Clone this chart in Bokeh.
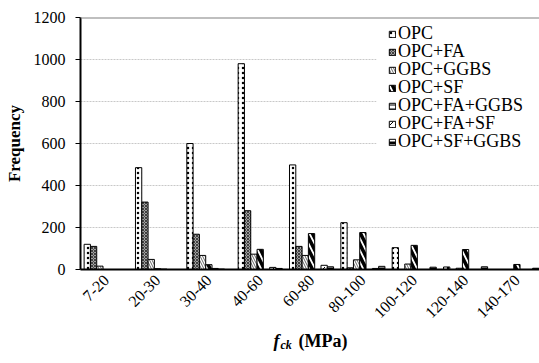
import math
from bokeh.plotting import figure
from bokeh.layouts import column
from bokeh.models import Range1d, Legend, LegendItem, Span, FixedTicker, BoxAnnotation
from bokeh.core.properties import value
from bokeh.embed import file_html
from bokeh.resources import INLINE

categories = ["7-20", "20-30", "30-40", "40-60", "60-80", "80-100", "100-120", "120-140", "140-170"]
series_names = ["OPC", "OPC+FA", "OPC+GGBS", "OPC+SF", "OPC+FA+GGBS", "OPC+FA+SF", "OPC+SF+GGBS"]
opc = [120, 485, 600, 980, 498, 223, 104, 12, 0]
opc_fa = [110, 321, 168, 280, 110, 8, 0, 0, 0]
opc_ggbs = [16, 48, 67, 73, 67, 46, 26, 6, 0]
opc_sf = [0, 4, 23, 96, 171, 176, 115, 95, 24]
opc_fa_ggbs = [0, 2, 5, 0, 0, 0, 0, 0, 0]
opc_fa_sf = [0, 0, 2, 10, 20, 5, 0, 0, 0]
opc_sf_ggbs = [0, 0, 0, 5, 13, 15, 11, 13, 6]
y_ticks = [0, 200, 400, 600, 800, 1000, 1200]
x_title_parts = ["f", "ck", "(MPa)"]

series = [opc, opc_fa, opc_ggbs, opc_sf, opc_fa_ggbs, opc_fa_sf, opc_sf_ggbs]
styles = [
    dict(fill_color="white", hatch_pattern="dot", hatch_scale=5, hatch_weight=1.0),
    dict(fill_color="#a0a0a0", hatch_pattern="diagonal_cross", hatch_scale=3, hatch_weight=0.6),
    dict(fill_color="white", hatch_pattern="left_diagonal_line", hatch_scale=5, hatch_weight=0.6),
    dict(fill_color="white", hatch_pattern="left_diagonal_line", hatch_scale=12, hatch_weight=3.5),
    dict(fill_color="white", hatch_pattern="horizontal_line", hatch_scale=4, hatch_weight=1.0),
    dict(fill_color="white", hatch_pattern="right_diagonal_dash", hatch_scale=5, hatch_weight=1.0),
    dict(fill_color="white", hatch_pattern="horizontal_line", hatch_scale=8, hatch_weight=3.0),
]

FONT = "Liberation Serif"
n_cat = len(categories)
bw = 0.1227

p = figure(width=539, height=327, output_backend="svg", toolbar_location=None,
           x_range=Range1d(0, 8.94), y_range=Range1d(0, 1200),
           min_border_left=80, min_border_right=0, min_border_top=17, min_border_bottom=58)
p.outline_line_color = None
p.background_fill_color = "white"
p.border_fill_color = "white"

renderers = []
for j, (name, vals) in enumerate(zip(series_names, series)):
    xs = [i + 0.5 + (j - 3) * bw for i in range(n_cat)]
    r = p.vbar(x=xs, top=vals, width=bw, bottom=0, line_color="black", line_width=1,
               hatch_color="black", **styles[j])
    renderers.append(r)

p.xgrid.visible = False
p.ygrid.grid_line_color = "#c8c8c8"
p.ygrid.grid_line_dash = "2 1"
p.ygrid.grid_line_width = 1

# y axis
p.yaxis.ticker = FixedTicker(ticks=y_ticks)
p.yaxis.axis_line_color = "black"
p.yaxis.axis_line_width = 2
p.yaxis.major_tick_line_color = "black"
p.yaxis.major_tick_out = 5
p.yaxis.major_tick_in = 0
p.yaxis.minor_tick_line_color = None
p.yaxis.major_label_text_font = FONT
p.yaxis.major_label_text_font_size = "16px"
p.yaxis.major_label_text_color = "black"
p.yaxis.major_label_standoff = 10
p.yaxis.axis_label = "Frequency"
p.yaxis.axis_label_text_font = FONT
p.yaxis.axis_label_text_font_style = "bold"
p.yaxis.axis_label_text_font_size = "17px"
p.yaxis.axis_label_text_color = "black"
p.yaxis.axis_label_standoff = 7

# x axis
centers = [i + 0.5 for i in range(n_cat)]
p.xaxis.ticker = FixedTicker(ticks=centers)
p.xaxis.major_label_overrides = {c: lab for c, lab in zip(centers, categories)}
p.xaxis.major_label_orientation = math.pi / 4
p.xaxis.axis_line_color = "black"
p.xaxis.axis_line_width = 2
p.xaxis.major_tick_out = 0
p.xaxis.major_tick_in = 0
p.xaxis.minor_tick_line_color = None
p.xaxis.major_label_text_font = FONT
p.xaxis.major_label_text_font_size = "16px"
p.xaxis.major_label_text_color = "black"
p.xaxis.major_label_standoff = 8

# white background behind the legend (covers grid lines)
legend_bg = BoxAnnotation(left=296, right=460, top=249, bottom=117,
                          left_units="screen", right_units="screen",
                          top_units="screen", bottom_units="screen",
                          fill_color="white", fill_alpha=1.0, line_color=None)
p.add_layout(legend_bg)

# one legend per row so rows can be spaced 18 px apart
for k, (name, r) in enumerate(zip(series_names, renderers)):
    row_center = 33 + 18 * k
    lg = Legend(items=[LegendItem(label=name, renderers=[r])], location=(308, 258 - row_center),
                label_text_font=FONT, label_text_font_size="18px", label_text_color="black",
                glyph_width=8, glyph_height=8, label_standoff=2, label_height=18,
                spacing=0, padding=0, margin=0,
                background_fill_alpha=0.0, border_line_color=None)
    p.add_layout(lg, "center")

top_line = Span(location=1200, dimension="width", line_color="#808080", line_width=2)
p.add_layout(top_line)

# x-axis title strip: f_ck (MPa); its frame is aligned with the main frame (x 80..539)
p2 = figure(width=539, height=36, output_backend="svg", toolbar_location=None,
            x_range=Range1d(80, 539), y_range=Range1d(0, 36), min_border=0,
            x_axis_location=None, y_axis_location=None)
p2.grid.visible = False
p2.outline_line_color = None
p2.background_fill_color = "white"
p2.border_fill_color = "white"
p2.text(x=[273], y=[23], text=[x_title_parts[0]], text_font=value(FONT),
        text_font_style="bold italic", text_font_size="18px", text_color="black",
        text_baseline="alphabetic", text_align="left")
p2.text(x=[280], y=[19], text=[x_title_parts[1]], text_font=value(FONT),
        text_font_style="bold italic", text_font_size="12px", text_color="black",
        text_baseline="alphabetic", text_align="left")
p2.text(x=[298], y=[23], text=[x_title_parts[2]], text_font=value(FONT),
        text_font_style="bold", text_font_size="18px", text_color="black",
        text_baseline="alphabetic", text_align="left")

layout = column(p, p2, spacing=0)
open("out.html", "w").write(file_html(layout, INLINE))
